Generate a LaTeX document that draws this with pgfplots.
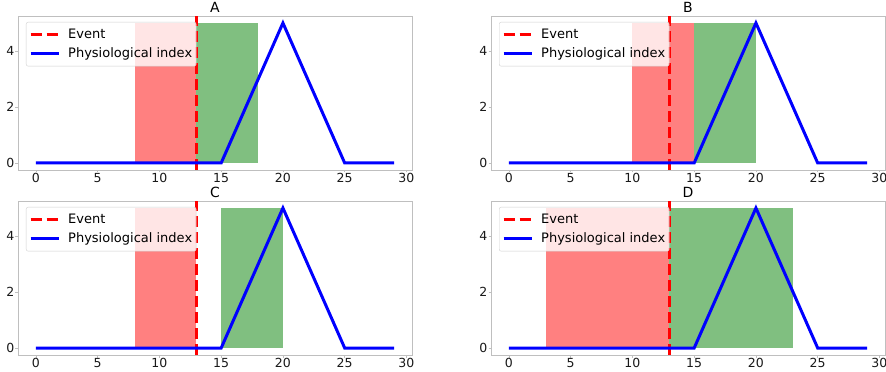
\documentclass[border=0pt]{standalone}
\usepackage{fontspec}
\setmainfont{DejaVu Sans}
\usepackage{pgfplots}
\pgfplotsset{compat=1.18}
\definecolor{spine}{HTML}{BFBFBF}
\definecolor{legframe}{HTML}{D0D0D0}
\definecolor{redspan}{HTML}{FF8080}
\definecolor{greenspan}{HTML}{80BF80}
\pgfplotsset{
  panel/.style={
    scale only axis, width=394pt, height=154pt,
    xmin=-1.45, xmax=30.45, ymin=-0.25, ymax=5.25,
    xtick={0,5,10,15,20,25,30}, ytick={0,2,4},
    axis line style={spine, line width=0.8pt},
    tick align=outside, major tick length=2.5pt,
    tick style={spine, line width=0.8pt},
    xtick pos=bottom, ytick pos=left,
    tick label style={font=\fontsize{12.5}{14}\selectfont, text=black!90},
    xticklabel style={inner sep=0pt, yshift=-1pt},
    yticklabel style={inner sep=0pt, xshift=-1pt},
    /pgf/number format/assume math mode=true,
    every axis title shift=0pt,
    title style={font=\fontsize{14}{16}\selectfont, inner sep=0pt, anchor=base, at={(0.5,1)}, yshift=3pt},
    legend cell align=left,
    legend style={at={(8/394,1-6/154)}, anchor=north west,
      fill=white, fill opacity=0.8, text opacity=1, draw=legframe,
      rounded corners=2pt, inner xsep=3pt, inner ysep=5pt,
      row sep=4pt, column sep=7pt,
      font=\fontsize{13}{15}\selectfont,
      nodes={inner sep=1pt, text height=10pt, text depth=3pt}},
    legend image code/.code={\draw[#1] (0pt,0pt) -- (28pt,0pt);},
  },
  evt/.style={red, line width=3pt, dash pattern=on 11pt off 5pt},
  phys/.style={blue, line width=3pt},
}
\begin{document}
\begin{tikzpicture}[x=1pt,y=1pt]
\useasboundingbox (0,0) rectangle (886,372);
% ---------- A ----------
\begin{axis}[panel, at={(18pt,202pt)}, anchor=south west, title={A}]
\addplot[draw=none, fill=redspan, forget plot] coordinates {(8,0) (8,5) (13,5) (13,0)} -- cycle;
\addplot[draw=none, fill=greenspan, forget plot] coordinates {(13,0) (13,5) (18,5) (18,0)} -- cycle;
\addplot[evt] coordinates {(13,-0.25) (13,5.25)};
\addlegendentry{Event}
\addplot[phys] coordinates {(0,0) (15,0) (20,5) (25,0) (29,0)};
\addlegendentry{Physiological index}
\end{axis}
% ---------- B ----------
\begin{axis}[panel, at={(491pt,202pt)}, anchor=south west, title={B}]
\addplot[draw=none, fill=redspan, forget plot] coordinates {(10,0) (10,5) (15,5) (15,0)} -- cycle;
\addplot[draw=none, fill=greenspan, forget plot] coordinates {(15,0) (15,5) (20,5) (20,0)} -- cycle;
\addplot[evt] coordinates {(13,-0.25) (13,5.25)};
\addlegendentry{Event}
\addplot[phys] coordinates {(0,0) (15,0) (20,5) (25,0) (29,0)};
\addlegendentry{Physiological index}
\end{axis}
% ---------- C ----------
\begin{axis}[panel, at={(18pt,17pt)}, anchor=south west, title={C}]
\addplot[draw=none, fill=redspan, forget plot] coordinates {(8,0) (8,5) (13,5) (13,0)} -- cycle;
\addplot[draw=none, fill=greenspan, forget plot] coordinates {(15,0) (15,5) (20,5) (20,0)} -- cycle;
\addplot[evt] coordinates {(13,-0.25) (13,5.25)};
\addlegendentry{Event}
\addplot[phys] coordinates {(0,0) (15,0) (20,5) (25,0) (29,0)};
\addlegendentry{Physiological index}
\end{axis}
% ---------- D ----------
\begin{axis}[panel, at={(491pt,17pt)}, anchor=south west, title={D}]
\addplot[draw=none, fill=redspan, forget plot] coordinates {(3,0) (3,5) (13,5) (13,0)} -- cycle;
\addplot[draw=none, fill=greenspan, forget plot] coordinates {(13,0) (13,5) (23,5) (23,0)} -- cycle;
\addplot[evt] coordinates {(13,-0.25) (13,5.25)};
\addlegendentry{Event}
\addplot[phys] coordinates {(0,0) (15,0) (20,5) (25,0) (29,0)};
\addlegendentry{Physiological index}
\end{axis}
\end{tikzpicture}
\end{document}
